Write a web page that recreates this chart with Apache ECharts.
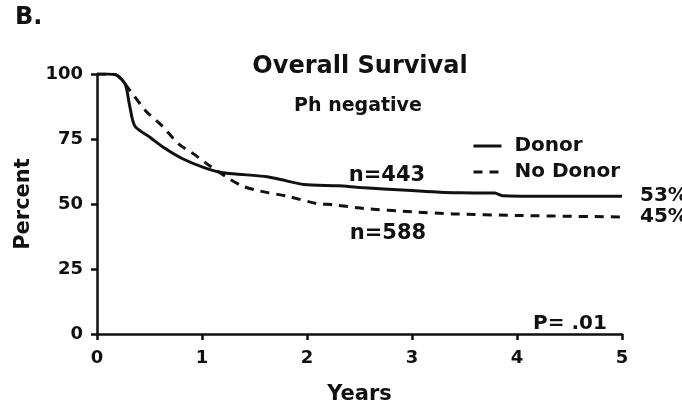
<!DOCTYPE html>
<html>
<head>
<meta charset="utf-8">
<script src="https://cdn.jsdelivr.net/npm/echarts@6/dist/echarts.min.js"></script>
<style>
  html, body { margin: 0; padding: 0; background: #fff; }
  #chart { width: 682px; height: 410px; }
</style>
</head>
<body>
<div id="chart"></div>
<script>
// Kaplan–Meier overall survival, Ph-negative, by donor availability
const seriesNames = ['Donor', 'No Donor'];

const donorYears = [0, 0.1, 0.19, 0.27, 0.31, 0.36, 0.51, 0.65, 0.81, 1.02, 1.2, 1.4, 1.62, 1.75, 1.97, 2.3, 2.51, 2.95, 3.27, 3.46, 3.79, 3.86, 4.32, 5.0];
const donorPct   = [100, 100, 99.5, 96, 88, 80, 75.5, 71.3, 67.5, 64, 62, 61.3, 60.5, 59.4, 57.5, 57, 56.3, 55.3, 54.5, 54.3, 54.2, 53.2, 53, 53];

const noDonorYears = [0, 0.1, 0.19, 0.27, 0.46, 0.62, 0.78, 0.94, 1.08, 1.27, 1.39, 1.55, 1.81, 2.09, 2.25, 2.54, 3.01, 3.39, 4.0, 5.0];
const noDonorPct   = [100, 100, 99.5, 96, 86, 80, 73, 68.7, 64.5, 59.4, 56.8, 55, 53, 50.2, 49.7, 48.3, 47, 46.2, 45.6, 45];

const yearTicks = [0, 1, 2, 3, 4, 5];
const percentTicks = [0, 25, 50, 75, 100];

const annotations = { panel: 'B.', title: 'Overall Survival', subtitle: 'Ph negative', pValue: 'P= .01', nDonor: 'n=443', nNoDonor: 'n=588' };

const FONT = '"DejaVu Sans", "Liberation Sans", Arial, sans-serif';
const INK = '#111';

const zip = (xs, ys) => xs.map((x, i) => [x, ys[i]]);

const chart = echarts.init(document.getElementById('chart'), null, { renderer: 'canvas' });

function textEl(text, x, y, size, align) {
  return {
    type: 'text', x, y,
    style: {
      text, fill: INK,
      font: 'bold ' + size + 'px ' + FONT,
      textAlign: align || 'center', textVerticalAlign: 'middle'
    }
  };
}

const endLabel = {
  show: true,
  distance: 18,
  color: INK,
  fontFamily: FONT,
  fontWeight: 'bold',
  fontSize: 20,
  formatter: p => Math.round(p.value[1]) + '%'
};

chart.setOption({
  animation: false,
  backgroundColor: '#fff',
  grid: { left: 97, right: 60, top: 74, bottom: 67, containLabel: false },
  legend: {
    data: seriesNames,
    orient: 'vertical',
    left: 467, top: 131,
    itemWidth: 28, itemHeight: 14, itemGap: 6,
    // line-only keys: hide the marker glyph drawn in the middle of each key
    itemStyle: { opacity: 0 },
    lineStyle: { width: 3 },
    textStyle: { color: INK, fontFamily: FONT, fontWeight: 'bold', fontSize: 20, lineHeight: 20, padding: [0, 0, 0, 8] }
  },
  xAxis: {
    type: 'value',
    min: yearTicks[0], max: yearTicks[yearTicks.length - 1], interval: 1,
    name: 'Years', nameLocation: 'middle', nameGap: 50,
    nameTextStyle: { color: INK, fontFamily: FONT, fontWeight: 'bold', fontSize: 21 },
    axisLine: { show: true, lineStyle: { color: INK, width: 2.5 } },
    axisTick: { show: true, inside: false, length: 6, lineStyle: { color: INK, width: 2.5 } },
    axisLabel: { margin: 15, color: INK, fontFamily: FONT, fontWeight: 'bold', fontSize: 18 },
    splitLine: { show: false }
  },
  yAxis: {
    type: 'value',
    min: percentTicks[0], max: percentTicks[percentTicks.length - 1], interval: 25,
    name: 'Percent', nameLocation: 'middle', nameGap: 59, nameRotate: 90,
    nameTextStyle: { color: INK, fontFamily: FONT, fontWeight: 'bold', fontSize: 21 },
    axisLine: { show: true, lineStyle: { color: INK, width: 2.5 } },
    axisTick: { show: true, inside: false, length: 6, lineStyle: { color: INK, width: 2.5 } },
    axisLabel: { margin: 14, color: INK, fontFamily: FONT, fontWeight: 'bold', fontSize: 18 },
    splitLine: { show: false }
  },
  series: [
    {
      name: seriesNames[0], type: 'line',
      data: zip(donorYears, donorPct),
      symbol: 'none', smooth: 0.25,
      color: INK,
      lineStyle: { color: INK, width: 3, type: 'solid' },
      endLabel
    },
    {
      name: seriesNames[1], type: 'line',
      data: zip(noDonorYears, noDonorPct),
      symbol: 'none', smooth: 0.25,
      color: INK,
      lineStyle: { color: INK, width: 3, type: [9, 7] },
      endLabel
    }
  ],
  graphic: [
    textEl(annotations.panel, 15, 18, 24, 'left'),
    textEl(annotations.title, 360, 67, 24),
    textEl(annotations.subtitle, 358, 106, 19),
    textEl(annotations.nDonor, 387, 176, 21),
    textEl(annotations.nNoDonor, 388, 234, 21),
    textEl(annotations.pValue, 570, 324, 20)
  ]
});
</script>
</body>
</html>
